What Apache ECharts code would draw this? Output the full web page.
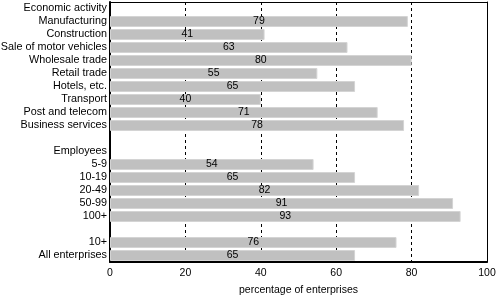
<!DOCTYPE html>
<html><head><meta charset="utf-8">
<script src="https://cdn.jsdelivr.net/npm/echarts@6/dist/echarts.min.js"></script>
<style>html,body{margin:0;padding:0;background:#fff}#c{width:496px;height:297px}</style>
</head><body><div id="c"></div>
<script>
const categories = ["Economic activity","Manufacturing","Construction","Sale of motor vehicles","Wholesale trade","Retail trade","Hotels, etc.","Transport","Post and telecom","Business services"," ","Employees","5-9","10-19","20-49","50-99","100+","  ","10+","All enterprises"];
const values = [null,79,41,63,80,55,65,40,71,78,null,null,54,65,82,91,93,null,76,65];
const xTicks = [0,20,40,60,80,100];
const xName = "percentage of enterprises";

const chart = echarts.init(document.getElementById('c'));
const font = 'Liberation Sans, Arial, sans-serif';
chart.setOption({
  animation:false,
  grid:{left:110,right:9,top:2,bottom:35,outerBoundsMode:'none',containLabel:false,show:false},
  xAxis:[{type:'value',min:xTicks[0],max:xTicks[xTicks.length-1],interval:20,
    name:xName,nameLocation:'middle',nameGap:23,
    nameTextStyle:{color:'#000',fontSize:10.5,fontFamily:font},
    axisLine:{show:true,lineStyle:{color:'#000',width:2}},
    axisTick:{show:false},
    axisLabel:{color:'#000',fontSize:10.5,fontFamily:font,margin:6},
    splitLine:{show:true,lineStyle:{color:'#000',type:[3,3],width:1}}},
   {type:'value',position:'top',min:0,max:100,interval:20,
    axisLine:{show:true,onZero:false,lineStyle:{color:'#000',width:1}},
    axisTick:{show:false},axisLabel:{show:false},splitLine:{show:false}}],
  yAxis:[{type:'category',data:categories,inverse:true,
    axisLine:{show:true,lineStyle:{color:'#000',width:2}},
    axisTick:{show:false},
    axisLabel:{color:'#000',fontSize:10.8,fontFamily:font,margin:3,interval:0},
    splitLine:{show:false}},
   {type:'category',data:categories,inverse:true,position:'right',
    axisLine:{show:true,onZero:false,lineStyle:{color:'#000',width:1}},
    axisTick:{show:false},axisLabel:{show:false},splitLine:{show:false}}],
  series:[{type:'bar',data:values,barWidth:11,xAxisIndex:0,yAxisIndex:0,
    itemStyle:{color:'#c0c0c0',borderColor:'#d4d4d4',borderWidth:1},
    label:{show:true,position:'inside',color:'#000',fontSize:10.5,fontFamily:font,
      formatter:p=>p.value==null?'':p.value}}]
});
</script></body></html>
